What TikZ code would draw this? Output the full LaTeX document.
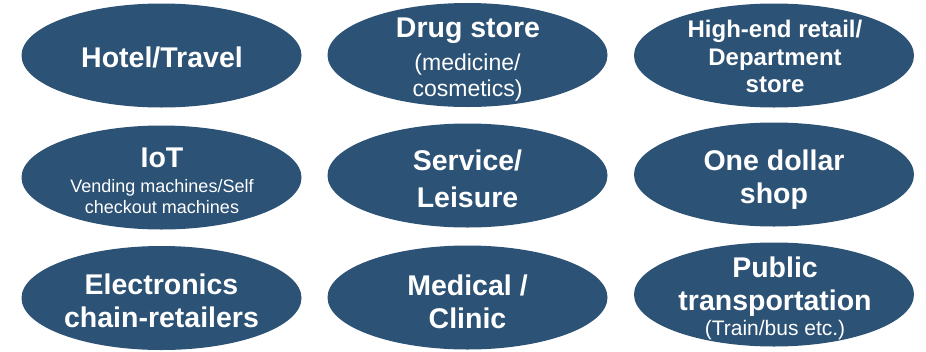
\documentclass[tikz,border=0pt]{standalone}
\usepackage{fontspec}
\setmainfont{Liberation Sans}
\usetikzlibrary{shapes.geometric}
\definecolor{ovalblue}{RGB}{44,82,117}
\begin{document}
\begin{tikzpicture}[x=1pt,y=-1pt,
  oval/.style={ellipse, fill=ovalblue, draw=none, minimum width=280pt, minimum height=104pt, inner sep=0pt},
  ttl/.style={anchor=base, inner sep=0pt, text=white, font=\bfseries\fontsize{#1}{#1}\selectfont},
  ttl/.default=28.5,
  sub/.style={anchor=base, inner sep=0pt, text=white, font=\fontsize{#1}{#1}\selectfont}]
\useasboundingbox (0,0) rectangle (926,351);
% ovals
\node[oval] (e1) at (161.5,55.5) {};
\node[oval] (e2) at (467.5,55) {};
\node[oval] (e3) at (774,55.5) {};
\node[oval] (e4) at (161.5,177.5) {};
\node[oval] (e5) at (467.5,175.5) {};
\node[oval] (e6) at (774,174.5) {};
\node[oval] (e7) at (161.5,298) {};
\node[oval] (e8) at (467.5,297.5) {};
\node[oval] (e9) at (774,294.5) {};
% texts
\node[ttl] (t1) at (162,67) {Hotel/Travel};
\node[ttl] (t2a) at (468,37) {Drug store};
\node[sub=23] (t2b) at (467.5,70) {(medicine/};
\node[sub=23] (t2c) at (467.5,96) {cosmetics)};
\node[ttl=24] (t3a) at (775,37) {High-end retail/};
\node[ttl=24] (t3b) at (775,65) {Department};
\node[ttl=24] (t3c) at (775,92) {store};
\node[ttl] (t4a) at (162,167) {IoT};
\node[sub=18] (t4b) at (162,192) {Vending machines/Self};
\node[sub=18] (t4c) at (162,213) {checkout machines};
\node[ttl] (t5a) at (467.5,170) {Service/};
\node[ttl] (t5b) at (467.5,207) {Leisure};
\node[ttl] (t6a) at (774,170) {One dollar};
\node[ttl] (t6b) at (774,203) {shop};
\node[ttl] (t7a) at (161.5,294) {Electronics};
\node[ttl] (t7b) at (161.5,327) {chain-retailers};
\node[ttl] (t8a) at (467.5,295) {Medical /};
\node[ttl] (t8b) at (467.5,328) {Clinic};
\node[ttl] (t9a) at (775,277) {Public};
\node[ttl] (t9b) at (775,310) {transportation};
\node[sub=21] (t9c) at (775,335) {(Train/bus etc.)};
\end{tikzpicture}
\end{document}
